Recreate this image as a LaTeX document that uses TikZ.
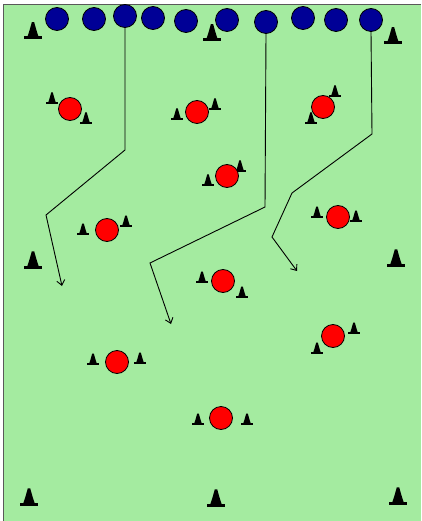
\documentclass[tikz,border=0pt]{standalone}
\usetikzlibrary{arrows.meta}
\definecolor{field}{RGB}{164,235,160}
\definecolor{bluep}{RGB}{0,0,150}
\definecolor{redp}{RGB}{255,0,0}
\tikzset{
  x=1pt,y=-1pt,
  blueplayer/.style={circle,draw=black,line width=0.8pt,fill=bluep,minimum size=23pt,inner sep=0pt},
  redplayer/.style={circle,draw=black,line width=0.8pt,fill=redp,minimum size=23pt,inner sep=0pt},
  run/.style={draw=black,line width=0.9pt,-{Straight Barb[length=5pt,width=8pt]}},
  pics/cone/.style={code={
    \fill[black] (-4,0) .. controls (-2.5,-4) and (-1.5,-8) .. (-0.8,-10.5)
       -- (0.8,-10.5) .. controls (1.5,-8) and (2.5,-4) .. (4,0) -- cycle;
    \fill[black] (-6,-1) rectangle (6,1);
  }},
}
\begin{document}
\begin{tikzpicture}
\useasboundingbox (0,0) rectangle (421,521);
\fill[white] (0,0) rectangle (421,521);
\fill[field] (3,5) rectangle (421,521);
\draw[black!65,line width=1pt] (3,521) -- (3,5) -- (421,5);

% cones (small)
\foreach \p in {(52,103),(86,123),(177,119),(215,109),(335,96),(311,123),(240,171),(208,185),
  (83,234),(126,226),(202,282),(317,217),(356,221),(242,297),(354,333),(317,353),
  (93,364),(140,363),(198,424),(247,424)}
  \pic at \p {cone};
% cones (large)
\foreach \p in {(33,38),(212,40),(393,43),(33,267),(396,265),(29,504),(216,505),(398,503)}
  \pic[scale=1.5] at \p {cone};

% blue players
\node[blueplayer] (b1) at (57,19) {};
\node[blueplayer] (b2) at (94,19) {};
\node[blueplayer] (b3) at (125,16) {};
\node[blueplayer] (b4) at (153,18) {};
\node[blueplayer] (b5) at (186,21) {};
\node[blueplayer] (b6) at (227,20) {};
\node[blueplayer] (b7) at (266,22) {};
\node[blueplayer] (b8) at (303,18) {};
\node[blueplayer] (b9) at (336,20) {};
\node[blueplayer] (b10) at (371,20) {};

% red players
\node[redplayer] (r1) at (70,109) {};
\node[redplayer] (r2) at (197,112) {};
\node[redplayer] (r3) at (323,107) {};
\node[redplayer] (r4) at (227,176) {};
\node[redplayer] (r5) at (107,230) {};
\node[redplayer] (r6) at (338,217) {};
\node[redplayer] (r7) at (223,281) {};
\node[redplayer] (r8) at (333,336) {};
\node[redplayer] (r9) at (117,362) {};
\node[redplayer] (r10) at (221,418) {};

% runs
\coordinate (e1) at (62,286);
\coordinate (e2) at (171,324);
\coordinate (e3) at (297,271);
\draw[run] (b3.south) -- (125,150) -- (46,215) -- (e1);
\draw[run] (b7.south) -- (265,207) -- (150,263) -- (e2);
\draw[run] (b10.south) -- (372,134) -- (292,193) -- (272,237) -- (e3);
\end{tikzpicture}
\end{document}
